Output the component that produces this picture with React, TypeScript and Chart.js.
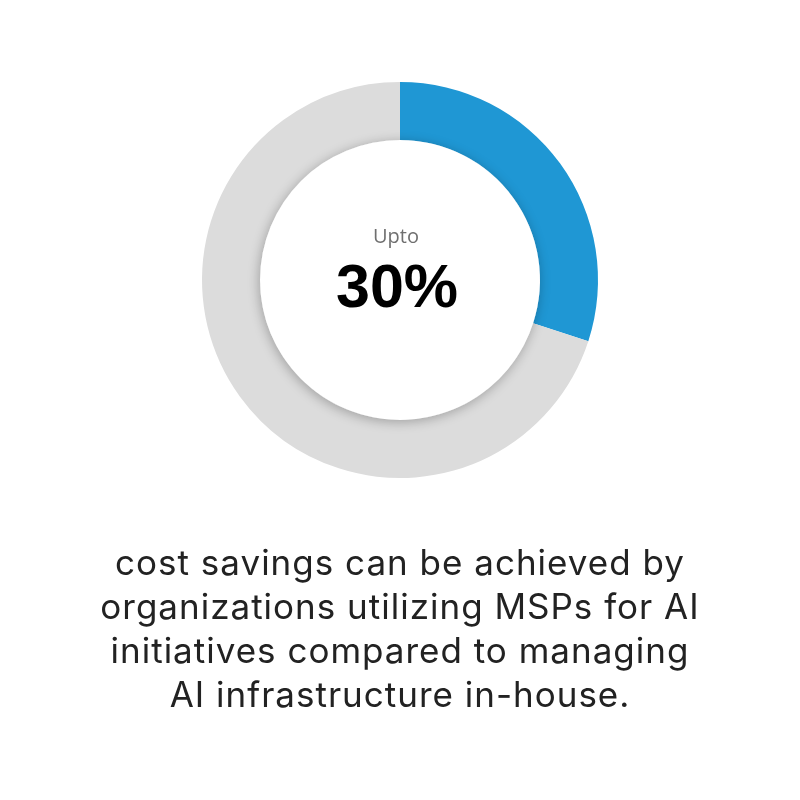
import React, { useEffect, useRef } from "react";
import { Chart, registerables, Plugin } from "chart.js";

Chart.register(...registerables);

// Share of cost savings vs. remainder
const segmentLabels = ["Cost savings", "Remaining"];
const segmentValues = [30, 70];
const segmentColors = ["#1f97d4", "#dcdcdc"];

const centerCaption = "Upto";
const centerValue = "30%";

const descriptionLines = [
  "cost savings can be achieved by",
  "organizations utilizing MSPs for AI",
  "initiatives compared to managing",
  "AI infrastructure in-house.",
];

// Soft shadow cast by the white centre onto the inner edge of the ring
const innerShadow: Plugin<"doughnut"> = {
  id: "innerShadow",
  afterDatasetsDraw(chart) {
    const arc: any = chart.getDatasetMeta(0).data[0];
    if (!arc) return;
    const { x, y, innerRadius, outerRadius } = arc.getProps(
      ["x", "y", "innerRadius", "outerRadius"],
      true
    );
    const ctx = chart.ctx;
    ctx.save();
    ctx.beginPath();
    ctx.arc(x, y, outerRadius, 0, Math.PI * 2);
    ctx.arc(x, y, innerRadius, 0, Math.PI * 2, true);
    ctx.clip("evenodd");
    ctx.beginPath();
    ctx.arc(x, y, innerRadius, 0, Math.PI * 2);
    ctx.fillStyle = "#ffffff";
    ctx.shadowColor = "rgba(0,0,0,0.28)";
    ctx.shadowBlur = 12;
    ctx.shadowOffsetX = -1;
    ctx.shadowOffsetY = 2;
    ctx.fill();
    ctx.restore();
  },
};

// Caption and headline value in the hole of the doughnut
const centerText: Plugin<"doughnut"> = {
  id: "centerText",
  afterDraw(chart) {
    const arc: any = chart.getDatasetMeta(0).data[0];
    if (!arc) return;
    const { x, y } = arc.getProps(["x", "y"], true);
    const ctx = chart.ctx;
    ctx.save();
    ctx.textAlign = "center";
    ctx.textBaseline = "alphabetic";
    ctx.fillStyle = "#6f6f6f";
    ctx.font = "400 20px 'Open Sans', sans-serif";
    ctx.fillText(centerCaption, x - 4, y - 37);
    ctx.fillStyle = "#000000";
    ctx.font = "bold 61px 'Liberation Sans', Arial, sans-serif";
    ctx.fillText(centerValue, x - 3, y + 27);
    ctx.restore();
  },
};

export default function App() {
  const canvasRef = useRef<HTMLCanvasElement>(null);

  useEffect(() => {
    const canvas = canvasRef.current;
    if (!canvas) return;
    const chart = new Chart(canvas, {
      type: "doughnut",
      data: {
        labels: segmentLabels,
        datasets: [
          {
            data: segmentValues,
            backgroundColor: segmentColors,
            borderWidth: 0,
            hoverOffset: 0,
          },
        ],
      },
      options: {
        responsive: false,
        animation: false,
        cutout: "70.7%",
        layout: { padding: { top: 82, bottom: 322, left: 202, right: 202 } },
        plugins: {
          legend: { display: false },
          tooltip: { enabled: false },
        },
      },
      plugins: [innerShadow, centerText],
    });
    return () => chart.destroy();
  }, []);

  return (
    <div
      style={{
        position: "absolute",
        left: 0,
        top: 0,
        width: 800,
        height: 800,
        background: "#ffffff",
        overflow: "hidden",
      }}
    >
      <canvas
        ref={canvasRef}
        width={800}
        height={800}
        style={{ position: "absolute", left: 0, top: 0, width: 800, height: 800 }}
      />
      <div
        style={{
          position: "absolute",
          left: 0,
          top: 540,
          width: 800,
          textAlign: "center",
          fontFamily: "Inter, sans-serif",
          fontSize: 35,
          lineHeight: "44px",
          letterSpacing: "1px",
          color: "#222222",
        }}
      >
        {descriptionLines.map((line) => (
          <div key={line}>{line}</div>
        ))}
      </div>
    </div>
  );
}
